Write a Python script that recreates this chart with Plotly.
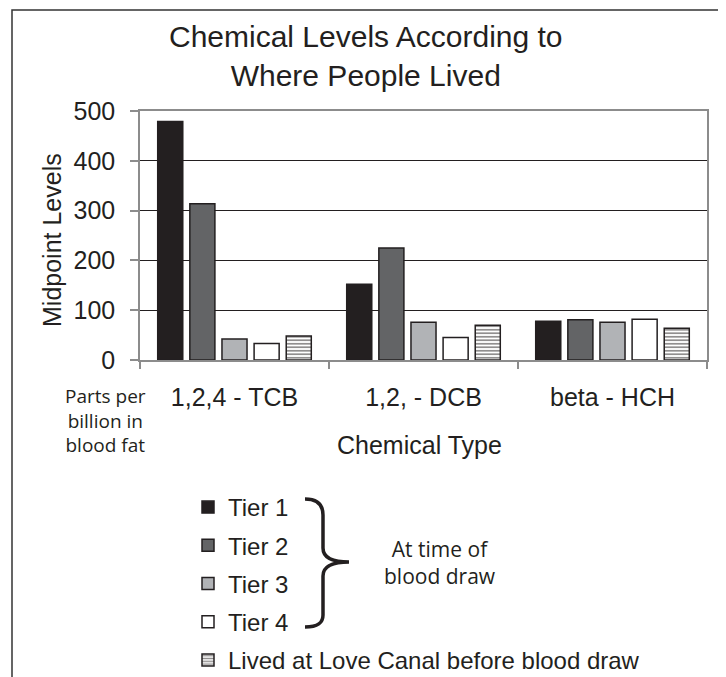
import plotly.graph_objects as go

categories = ["1,2,4 - TCB", "1,2, - DCB", "beta - HCH"]
series_names = ["Tier 1", "Tier 2", "Tier 3", "Tier 4", "Lived at Love Canal before blood draw"]
tier1 = [479, 152, 78]
tier2 = [314, 225, 81]
tier3 = [42, 76, 76]
tier4 = [33, 45, 82]
lived = [48, 70, 64]
y_ticks = [0, 100, 200, 300, 400, 500]

values = [tier1, tier2, tier3, tier4, lived]
fills = ["#231f20", "#636466", "#b1b3b6", "#ffffff", "#ffffff"]
INK = "#231f20"
ARIAL = "Liberation Sans, Arial, sans-serif"
MYRIAD = "Open Sans, sans-serif"

# page body has an 8px margin, so the figure is drawn 8px right/down
OFF = 8
W, H = 726 - OFF, 720
# plot area in screen pixels
SL, SR, ST, SB = 140, 707, 111, 360
L, R, T, B = SL - OFF, SR - OFF, ST - OFF, SB - OFF


def px(x):
    return (x - SL) / (SR - SL)


def py(y):
    return (SB - y) / (SB - ST)


fig = go.Figure()
for i, (name, vals, col) in enumerate(zip(series_names, values, fills)):
    marker = dict(color=col, line=dict(color=INK, width=1.5))
    if i == 4:
        marker["pattern"] = dict(shape="-", fgcolor=INK, bgcolor="#ffffff", size=3.5, solidity=0.5)
    fig.add_trace(go.Bar(x=categories, y=vals, name=name, marker=marker,
                         legendgroup="g%d" % i))

fig.update_layout(
    width=W, height=H,
    margin=dict(l=L, r=W - R, t=T, b=H - B, pad=0),
    paper_bgcolor="#ffffff", plot_bgcolor="#ffffff",
    barmode="group", bargap=0.15, bargroupgap=0.22,
    font=dict(family=ARIAL, color=INK, size=25),
    showlegend=True,
    legend=dict(x=px(188), y=py(485), xanchor="left", yanchor="top",
                font=dict(family=ARIAL, size=24, color=INK),
                traceorder="grouped", tracegroupgap=4, itemwidth=30,
                bgcolor="rgba(0,0,0,0)", borderwidth=0),
)

fig.update_yaxes(range=[0, 500], tickvals=y_ticks, showgrid=True, gridcolor=INK, gridwidth=1,
                 showline=True, linecolor="#8c8c8c", linewidth=1.5, mirror=True,
                 ticks="outside", ticklen=8, tickcolor="#8c8c8c", tickwidth=1.5,
                 zeroline=False, tickfont=dict(size=25, family=ARIAL, color=INK),
                 ticklabelstandoff=10)
fig.update_xaxes(showline=True, linecolor="#8c8c8c", linewidth=1.5, mirror=True,
                 ticks="outside", ticklen=7, tickcolor="#8c8c8c", tickwidth=1.5,
                 tickson="boundaries", showgrid=False,
                 tickfont=dict(size=25, family=ARIAL, color=INK), ticklabelstandoff=14)

ann = []
ann.append(dict(text="Chemical Levels According to<br>Where People Lived", x=px(366), y=py(56),
                xref="paper", yref="paper", showarrow=False, xanchor="center", yanchor="middle",
                font=dict(size=30, family=ARIAL, color=INK)))
ann.append(dict(text="Midpoint Levels", x=px(52), y=py(240), xref="paper", yref="paper",
                showarrow=False, textangle=-90, xanchor="center", yanchor="middle",
                font=dict(size=25, family=ARIAL, color=INK)))
ann.append(dict(text="Chemical Type", x=px(419), y=py(445), xref="paper", yref="paper",
                showarrow=False, xanchor="center", yanchor="middle",
                font=dict(size=25, family=ARIAL, color=INK)))
ann.append(dict(text="Parts per<br>billion in<br>blood fat", x=px(105), y=py(420), xref="paper",
                yref="paper", showarrow=False, xanchor="center", yanchor="middle",
                font=dict(size=19, family=MYRIAD, color=INK)))
ann.append(dict(text="At time of<br>blood draw", x=px(440), y=py(562), xref="paper",
                yref="paper", showarrow=False, xanchor="center", yanchor="middle",
                font=dict(size=21, family=MYRIAD, color=INK)))
fig.update_layout(annotations=ann)


def P(x, y):
    return "%.5f,%.5f" % (px(x), py(y))


brace = ("M " + P(305, 499) + " C " + P(318, 499) + " " + P(323, 505) + " " + P(323, 515)
         + " L " + P(323, 548) + " C " + P(323, 557) + " " + P(331, 562) + " " + P(349, 562)
         + " C " + P(331, 562) + " " + P(323, 567) + " " + P(323, 576)
         + " L " + P(323, 615) + " C " + P(323, 623) + " " + P(318, 627) + " " + P(305, 627))

shapes = [
    dict(type="path", path=brace, xref="paper", yref="paper",
         line=dict(color=INK, width=3.5)),
    dict(type="rect", xref="paper", yref="paper", x0=px(12), x1=px(721), y0=py(10), y1=py(720),
         line=dict(color="#333333", width=1.5), fillcolor="rgba(0,0,0,0)", layer="above"),
    dict(type="line", xref="paper", yref="paper", x0=px(722), x1=px(722), y0=py(10), y1=py(720),
         line=dict(color="#444444", width=3), layer="above"),
]
fig.update_layout(shapes=shapes)

fig.write_html("out.html")
